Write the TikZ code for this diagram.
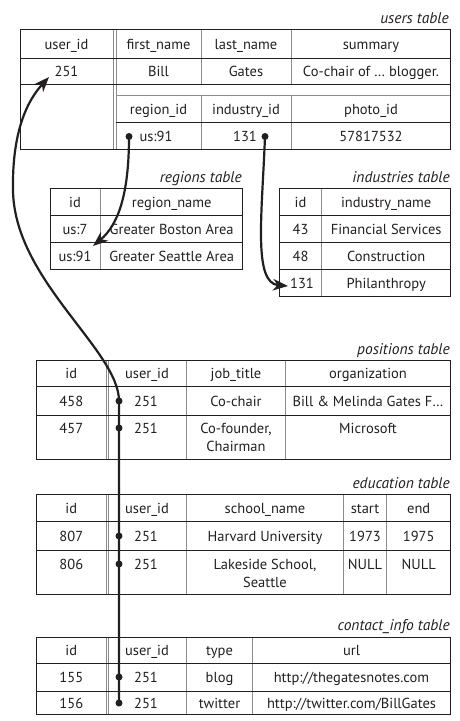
\documentclass[tikz,border=0pt]{standalone}
\usepackage{fontspec}
\setmainfont{PT Sans}
\usetikzlibrary{arrows.meta}
\definecolor{ink}{RGB}{35,31,32}
\definecolor{rulegray}{RGB}{140,140,140}
\begin{document}
\begin{tikzpicture}[x=1pt,y=-1pt,
  frame/.style={draw=ink,line width=0.9pt},
  hrule/.style={draw=ink,line width=0.9pt},
  vrule/.style={draw=rulegray,line width=0.9pt},
  cell/.style={anchor=base,inner sep=0pt,font=\fontsize{14.5}{16}\selectfont,text=ink},
  caption/.style={anchor=base east,inner sep=0pt,font=\fontsize{15.5}{17}\selectfont\itshape,text=ink},
  dot/.style={circle,fill=ink,inner sep=0pt,minimum size=7pt},
  link/.style={draw=ink,line width=2.2pt},
  tip/.style={-{Stealth[length=15pt,width=11.5pt,inset=4.5pt]}}
]
\useasboundingbox (0,0) rectangle (459,721);

% ---------------- users table ----------------
\node[caption] (cap-users) at (449,23) {users table};
\draw[vrule] (113,29) -- (113,149) (116,29) -- (116,149);
\draw[vrule] (201,29) -- (201,84) (291.5,29) -- (291.5,84)
             (201,95) -- (201,149) (291.5,95) -- (291.5,149);
\draw[vrule] (116,95) -- (450.5,95);
\draw[hrule] (20,58) -- (450.5,58) (20,84) -- (450.5,84) (116,122) -- (450.5,122);
\draw[frame] (20,29) rectangle (450.5,149);
\node[cell] (u-h1) at (66.5,49) {user\_id};
\node[cell] (u-h2) at (158.5,49) {first\_name};
\node[cell] (u-h3) at (246,49) {last\_name};
\node[cell] (u-h4) at (371,49) {summary};
\node[cell] (u-uid) at (66.5,76.5) {251};
\node[cell] (u-first) at (158.5,76.5) {Bill};
\node[cell] (u-last) at (246,76.5) {Gates};
\node[cell] (u-sum) at (371,76.5) {Co-chair of … blogger.};
\node[cell] (u-h5) at (158.5,114) {region\_id};
\node[cell] (u-h6) at (246,114) {industry\_id};
\node[cell] (u-h7) at (371,114) {photo\_id};
\node[cell] (u-region) at (156,141) {us:91};
\node[cell] (u-industry) at (245,141) {131};
\node[cell] (u-photo) at (371,141) {57817532};
\node[dot] (rdot) at (129,136.5) {};
\node[dot] (idot) at (265,136.5) {};

% ---------------- regions table ----------------
\node[caption] (cap-regions) at (242,182) {regions table};
\draw[vrule] (100.7,188) -- (100.7,269);
\draw[hrule] (50,215) -- (242.7,215) (50,242) -- (242.7,242);
\draw[frame] (50,188) rectangle (242.7,269);
\node[cell] (r-h1) at (75,207) {id};
\node[cell] (r-h2) at (171.7,207) {region\_name};
\node[cell] (r-id1) at (75,234) {us:7};
\node[cell] (r-name1) at (171.7,234) {Greater Boston Area};
\node[cell] (r-id2) at (75,261) {us:91};
\node[cell] (r-name2) at (171.7,261) {Greater Seattle Area};

% ---------------- industries table ----------------
\node[caption] (cap-industries) at (450,182) {industries table};
\draw[vrule] (321.7,188) -- (321.7,296);
\draw[hrule] (279.3,215) -- (450.7,215) (279.3,242) -- (450.7,242) (279.3,269) -- (450.7,269);
\draw[frame] (279.3,188) rectangle (450.7,296);
\node[cell] (i-h1) at (300.5,207) {id};
\node[cell] (i-h2) at (386.2,207) {industry\_name};
\node[cell] (i-id1) at (300.5,234) {43};
\node[cell] (i-name1) at (386.2,234) {Financial Services};
\node[cell] (i-id2) at (300.5,261) {48};
\node[cell] (i-name2) at (386.2,261) {Construction};
\node[cell] (i-id3) at (302,288) {131};
\node[cell] (i-name3) at (386.2,288) {Philanthropy};

% ---------------- positions table ----------------
\node[caption] (cap-positions) at (450,354) {positions table};
\draw[vrule] (106,360) -- (106,459) (108.5,360) -- (108.5,459)
             (186.7,360) -- (186.7,459) (285.7,360) -- (285.7,459);
\draw[hrule] (36.7,386.7) -- (450.7,386.7) (36.7,415) -- (450.7,415);
\draw[frame] (36.7,360) rectangle (450.7,459);
\node[cell] (p-h1) at (71.3,378.5) {id};
\node[cell] (p-h2) at (147,378.5) {user\_id};
\node[cell] (p-h3) at (236,378.5) {job\_title};
\node[cell] (p-h4) at (368,378.5) {organization};
\node[cell] (p-id1) at (71.3,406.5) {458};
\node[cell] (p-uid1) at (146,406.5) {251};
\node[cell] (p-title1) at (236,406.5) {Co-chair};
\node[cell] (p-org1) at (368,406.5) {Bill \& Melinda Gates F…};
\node[cell] (p-id2) at (71.3,433.5) {457};
\node[cell] (p-uid2) at (146,433.5) {251};
\node[cell] (p-title2) at (236,433.5) {Co-founder,};
\node[cell] (p-title2b) at (236,451.5) {Chairman};
\node[cell] (p-org2) at (368,433.5) {Microsoft};
\node[dot] (pdot1) at (119,401) {};
\node[dot] (pdot2) at (119,428) {};

% ---------------- education table ----------------
\node[caption] (cap-education) at (450,488) {education table};
\draw[vrule] (106,494) -- (106,594.3) (108.5,494) -- (108.5,594.3)
             (186.7,494) -- (186.7,594.3) (343.3,494) -- (343.3,594.3)
             (386.7,494) -- (386.7,594.3);
\draw[hrule] (36.7,521.7) -- (450.7,521.7) (36.7,550) -- (450.7,550);
\draw[frame] (36.7,494) rectangle (450.7,594.3);
\node[cell] (e-h1) at (71.3,513.5) {id};
\node[cell] (e-h2) at (147,513.5) {user\_id};
\node[cell] (e-h3) at (265,513.5) {school\_name};
\node[cell] (e-h4) at (365,513.5) {start};
\node[cell] (e-h5) at (418.7,513.5) {end};
\node[cell] (e-id1) at (71.3,541.5) {807};
\node[cell] (e-uid1) at (146,541.5) {251};
\node[cell] (e-school1) at (265,541.5) {Harvard University};
\node[cell] (e-start1) at (365,541.5) {1973};
\node[cell] (e-end1) at (418.7,541.5) {1975};
\node[cell] (e-id2) at (71.3,569.5) {806};
\node[cell] (e-uid2) at (146,569.5) {251};
\node[cell] (e-school2) at (265,569.5) {Lakeside School,};
\node[cell] (e-school2b) at (265,587.5) {Seattle};
\node[cell] (e-start2) at (365,569.5) {NULL};
\node[cell] (e-end2) at (418.7,569.5) {NULL};
\node[dot] (edot1) at (119,536) {};
\node[dot] (edot2) at (119,564) {};

% ---------------- contact_info table ----------------
\node[caption] (cap-contact) at (450,630) {contact\_info table};
\draw[vrule] (106,637.3) -- (106,714.3) (108.5,637.3) -- (108.5,714.3)
             (186.7,637.3) -- (186.7,714.3) (252.3,637.3) -- (252.3,714.3);
\draw[hrule] (36.7,663.3) -- (450.7,663.3) (36.7,691) -- (450.7,691);
\draw[frame] (36.7,637.3) rectangle (450.7,714.3);
\node[cell] (c-h1) at (71.3,655.5) {id};
\node[cell] (c-h2) at (147,655.5) {user\_id};
\node[cell] (c-h3) at (219.5,655.5) {type};
\node[cell] (c-h4) at (351.5,655.5) {url};
\node[cell] (c-id1) at (71.3,682.5) {155};
\node[cell] (c-uid1) at (146,682.5) {251};
\node[cell] (c-type1) at (219.5,682.5) {blog};
\node[cell] (c-url1) at (351.5,682.5) {http://thegatesnotes.com};
\node[cell] (c-id2) at (71.3,708) {156};
\node[cell] (c-uid2) at (146,708) {251};
\node[cell] (c-type2) at (219.5,708) {twitter};
\node[cell] (c-url2) at (351.5,708) {http://twitter.com/BillGates};
\node[dot] (cdot1) at (119,677) {};
\node[dot] (cdot2) at (119,703) {};

% ---------------- foreign-key connectors ----------------
\coordinate (uid-tip) at (49,77);
\coordinate (region-tip) at (93,246);
\coordinate (industry-tip) at (288,286);
\draw[link,tip] (cdot2.center) -- (pdot1.center)
  .. controls (119,350) and (14,280) .. (13,190)
  .. controls (12,130) and (28,100) .. (uid-tip);
\draw[link,tip] (rdot.center) .. controls (129,195) and (118,225) .. (region-tip);
\draw[link,tip] (idot.center) .. controls (262,215) and (253,283) .. (industry-tip);
\end{tikzpicture}
\end{document}
